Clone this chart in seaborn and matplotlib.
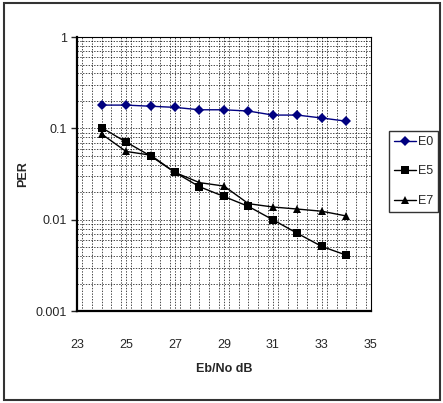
import numpy as np
import pandas as pd
import seaborn as sns
from matplotlib import pyplot as plt
import matplotlib.ticker as ticker
from matplotlib.patches import Rectangle

ebno = [24, 25, 26, 27, 28, 29, 30, 31, 32, 33, 34]
per_e0 = [0.18, 0.18, 0.175, 0.17, 0.16, 0.16, 0.155, 0.14, 0.14, 0.13, 0.12]
per_e5 = [0.102, 0.071, 0.05, 0.033, 0.023, 0.018, 0.014, 0.01, 0.0071, 0.0051, 0.0041]
per_e7 = [0.087, 0.056, 0.051, 0.033, 0.0255, 0.0234, 0.015, 0.0138, 0.0131, 0.0124, 0.011]
series = ["E0", "E5", "E7"]
x_ticks = [23, 25, 27, 29, 31, 33, 35]

df = pd.concat([
    pd.DataFrame({"Eb/No dB": ebno, "PER": vals, "series": name})
    for name, vals in zip(series, [per_e0, per_e5, per_e7])
])

sns.set_style("white")
plt.rcParams["font.family"] = ["Liberation Sans", "DejaVu Sans"]

fig = plt.figure(figsize=(4.43, 4.03), dpi=100)
ax = fig.add_axes([0.174, 0.228, 0.663, 0.68])

sns.lineplot(
    data=df, x="Eb/No dB", y="PER", hue="series", style="series",
    palette={"E0": "#000080", "E5": "black", "E7": "black"},
    markers={"E0": "D", "E5": "s", "E7": "^"},
    dashes=False, linewidth=1, markersize=5.5, markeredgewidth=0,
    ax=ax, legend=False,
)

ax.set_yscale("log")
ax.set_ylim(0.001, 1)
ax.set_xlim(23, 35)
ax.xaxis.set_major_locator(ticker.FixedLocator(x_ticks))
ax.xaxis.set_minor_locator(ticker.MultipleLocator(0.4))
ax.yaxis.set_major_locator(ticker.LogLocator(base=10))
ax.yaxis.set_minor_locator(ticker.LogLocator(base=10, subs=np.arange(2, 10)))
ax.yaxis.set_major_formatter(ticker.FuncFormatter(lambda v, _: f"{v:g}"))
ax.yaxis.set_minor_formatter(ticker.NullFormatter())

ax.grid(which="both", color="black", linestyle=(0, (2, 2)), linewidth=0.5)
ax.set_axisbelow(True)

ax.tick_params(axis="y", which="major", length=4, width=1, direction="out", left=True,
               labelsize=9, pad=3)
ax.tick_params(axis="y", which="minor", length=0)
ax.tick_params(axis="x", which="both", length=0, labelsize=9, pad=20)

for side in ["left", "bottom"]:
    ax.spines[side].set_color("black")
    ax.spines[side].set_linewidth(1.6)
for side in ["top", "right"]:
    ax.spines[side].set_color("black")
    ax.spines[side].set_linewidth(0.8)

ax.set_xlabel("Eb/No dB", fontsize=9, fontweight="bold", labelpad=9)
ax.set_ylabel("PER", fontsize=9, fontweight="bold", labelpad=5)

handles = [
    plt.Line2D([], [], color=c, marker=m, markersize=5.5, markeredgewidth=0, linewidth=1)
    for c, m in zip(["#000080", "black", "black"], ["D", "s", "^"])
]
fig.legend(handles, series, loc="upper left", bbox_to_anchor=(0.878, 0.675),
           frameon=True, fontsize=9, handlelength=1.8, handletextpad=0.1,
           labelspacing=1.4, borderpad=0.4, borderaxespad=0, fancybox=False,
           edgecolor="black")

fig.patches.append(Rectangle((0.008, 0.007), 0.986, 0.986, transform=fig.transFigure,
                             fill=False, edgecolor="#333333", linewidth=1.5))

fig.savefig("out.png", dpi=100)
